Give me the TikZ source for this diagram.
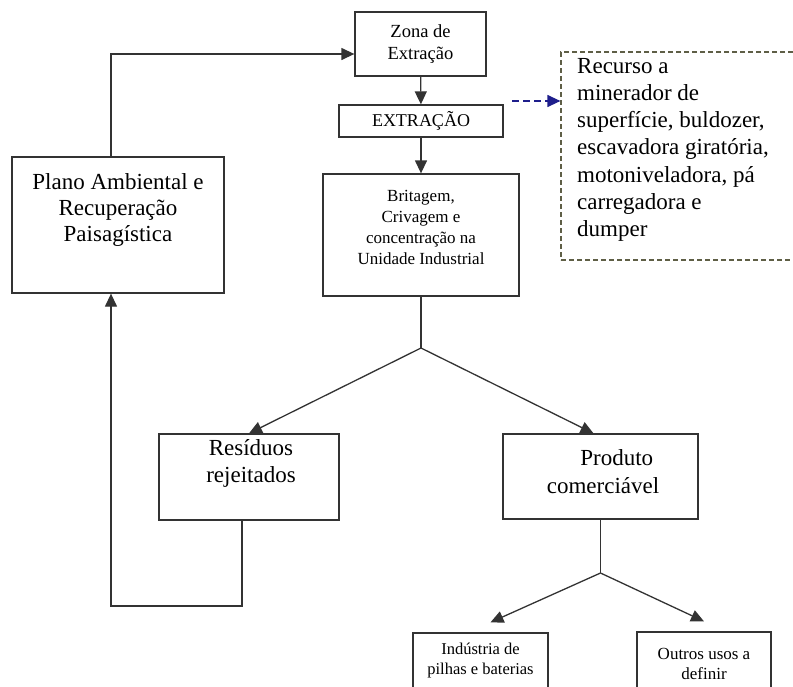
\documentclass[tikz,border=0pt]{standalone}
\usepackage{fontspec}
\setmainfont{Liberation Serif}
\usetikzlibrary{arrows.meta}
\definecolor{tracoolivo}{RGB}{95,95,70}
\definecolor{setaazul}{RGB}{30,30,140}
\tikzset{
  caixa/.style={draw=black!80,line width=1.3pt},
  liga/.style={draw=black!80,line width=1.3pt},
  seta/.style={-{Triangle[length=13pt,width=12pt]}},
  txt/.style={align=center,inner sep=0pt},
}
\begin{document}
\begin{tikzpicture}[x=1pt,y=-1pt]
\useasboundingbox (0,0) rectangle (793,686);
% coluna central
\node (zona) [caixa,minimum width=131pt,minimum height=64pt,align=center,font=\fontsize{18.5}{22}\selectfont] at (420.5,44) {Zona de\\Extração};
\node (extr) [caixa,minimum width=164pt,minimum height=32pt,font=\fontsize{18}{20}\selectfont] at (421,121) {EXTRAÇÃO};
\node (brit) [caixa,minimum width=196pt,minimum height=122pt] at (421,235) {};
\node (brittxt) [txt,font=\fontsize{17}{21}\selectfont] at (421,227) {Britagem,\\Crivagem e\\concentração na\\Unidade Industrial};
% recuperacao
\node (plano) [caixa,minimum width=212pt,minimum height=136pt] at (118,225) {};
\node (planotxt) [txt,font=\fontsize{23}{26}\selectfont] at (118,210) {Plano Ambiental e\\Recuperação\\Paisagística};
% equipamentos
\node (recurso) [draw=tracoolivo,line width=1.2pt,dash pattern=on 5pt off 3pt,minimum width=244pt,minimum height=208pt] at (683,156) {};
\node (recursotxt) [anchor=north west,align=left,inner sep=0pt,font=\fontsize{23}{27.2}\selectfont] at (577,58) {Recurso a\\minerador de\\superfície, buldozer,\\escavadora giratória,\\motoniveladora, pá\\carregadora e\\dumper};
% saidas
\node (resid) [caixa,minimum width=180pt,minimum height=86pt] at (249,477) {};
\node (residtxt) [txt,font=\fontsize{23}{27}\selectfont] at (251,463) {Resíduos\\rejeitados};
\node (prod) [caixa,minimum width=195pt,minimum height=85pt] at (600.5,476.5) {};
\node (prodtxt) [txt,font=\fontsize{23}{28}\selectfont] at (603,472) {\hspace*{1.2em}Produto\\comerciável};
\node (ind) [caixa,minimum width=135pt,minimum height=70pt] at (480.5,668) {};
\node (indtxt) [txt,font=\fontsize{16.5}{20}\selectfont] at (480.5,661) {Indústria de\\pilhas e baterias};
\node (outros) [caixa,minimum width=134pt,minimum height=70pt] at (704,667) {};
\node (outrostxt) [txt,font=\fontsize{17}{20}\selectfont] at (704,664) {Outros usos a\\definir};
% ligacoes
\coordinate (retorno) at (111,54);
\coordinate (volta) at (111,606);
\coordinate (ramo1) at (421,348);
\coordinate (ramo2) at (600.5,573);
\coordinate (tracoini) at (512,101);
\draw[liga,seta] (zona) -- (extr);
\draw[liga,seta] (extr) -- (brit);
\draw[liga,seta] (retorno |- plano.north) -- (retorno) -- (retorno -| zona.west);
\draw[setaazul,line width=1.2pt,dash pattern=on 7pt off 4pt,seta] (tracoini) -- (tracoini -| recurso.west);
\draw[liga] (brit.south) -- (ramo1);
\draw[liga,seta] (ramo1) -- (resid.north);
\draw[liga,seta] (ramo1) -- ([xshift=-7pt]prod.north);
\draw[liga,seta] ([xshift=-7pt]resid.south) |- (volta) -- (volta |- plano.south);
\draw[liga] (prod.south) -- (ramo2);
\draw[liga,seta] (ramo2) -- ([shift={(10pt,10pt)}]ind.north);
\draw[liga,seta] (ramo2) -- ([yshift=10pt]outros.north);
\end{tikzpicture}
\end{document}
